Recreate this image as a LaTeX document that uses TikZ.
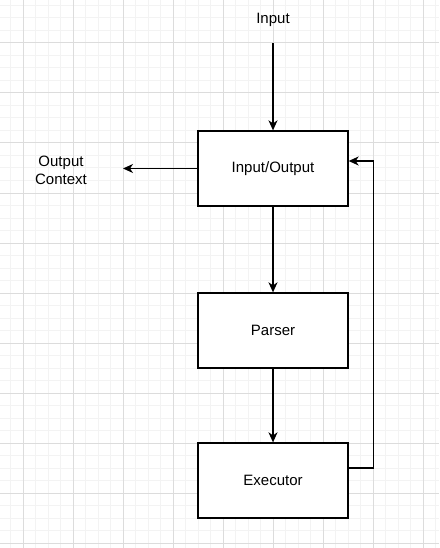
\documentclass[tikz,border=0pt]{standalone}
\usepackage{fontspec}
\setmainfont{Liberation Sans}
\usetikzlibrary{calc, positioning, arrows.meta}
\definecolor{gridmajor}{HTML}{DCDCDC}
\definecolor{gridminor}{HTML}{F3F3F3}
\tikzset{
	block/.style={draw=black, fill=white, line width=1.3pt, minimum width=150pt, minimum height=75pt, inner sep=0pt, font=\fontsize{15}{18}\selectfont},
	label/.style={inner sep=0pt, font=\fontsize{15}{18}\selectfont, align=center},
	flow/.style={line width=1.3pt, -{Stealth[length=10pt, width=9pt, inset=3pt]}}
}
\begin{document}
\begin{tikzpicture}[x=1pt, y=-1pt]

		%page and background grid
		\useasboundingbox (0,0) rectangle (439,548);
		\fill[white] (0,0) rectangle (439,548);
		\foreach \i in {0,...,35} {
			\draw[gridminor, line width=1pt] (10.5+12.5*\i,0) -- (10.5+12.5*\i,548);
		}
		\foreach \i in {0,...,43} {
			\draw[gridminor, line width=1pt] (0,5.5+12.5*\i) -- (439,5.5+12.5*\i);
		}
		\foreach \i in {0,...,8} {
			\draw[gridmajor, line width=1pt] (23+50*\i,0) -- (23+50*\i,548);
		}
		\foreach \i in {0,...,10} {
			\draw[gridmajor, line width=1pt] (0,43+50*\i) -- (439,43+50*\i);
		}

		%the three blocks
		\node[block] (io) at (273,168.5) {Input/Output};
		\node[block] (parser) at (273,330.5) {Parser};
		\node[block] (executor) at (273,480.5) {Executor};

		%free texts
		\node[label] (input) at (273,20) {Input};
		\node[label] (output) at (61,170) {Output\\Context};
		\coordinate (inTop) at (273,43);
		\coordinate (outEnd) at (123,168.5);

		%connectors
		\draw[flow] (inTop) -- (io.north);
		\draw[flow] (io.west) -- (outEnd);
		\draw[flow] (io.south) -- (parser.north);
		\draw[flow] (parser.south) -- (executor.north);
		\draw[flow] ([yshift=12.5pt]executor.east) -| ([xshift=25pt, yshift=7.5pt]io.east) -- ([yshift=7.5pt]io.east);

	\end{tikzpicture}
\end{document}
